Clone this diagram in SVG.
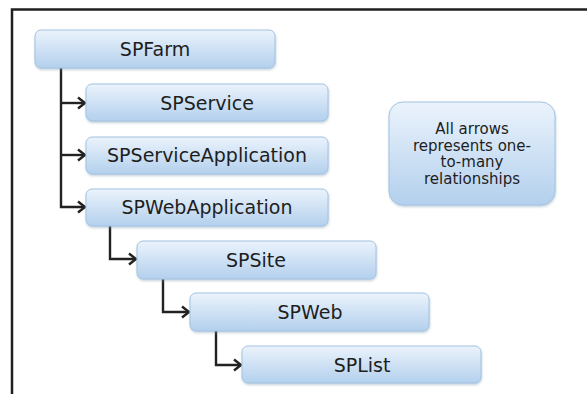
<svg xmlns="http://www.w3.org/2000/svg" width="587" height="394" viewBox="0 0 587 394">
  <style>
    .box { fill: url(#boxFill); stroke: #a3c3e2; stroke-width: 1; filter: url(#shadow); }
    .label { font-family: "DejaVu Sans", Verdana, sans-serif; font-size: 19px; fill: #1e1e1e; text-anchor: middle; }
    .note { font-family: "DejaVu Sans", Verdana, sans-serif; font-size: 15px; fill: #1e1e1e; text-anchor: middle; }
    .link { fill: none; stroke: #222; stroke-width: 2.4; marker-end: url(#arrow); }
    .frame { fill: none; stroke: #1f1f1f; stroke-width: 2.5; }
  </style>
  <defs>
    <linearGradient id="boxFill" x1="0" y1="0" x2="0" y2="1">
      <stop offset="0" stop-color="#ebf3fc"/>
      <stop offset="1" stop-color="#b3d0ed"/>
    </linearGradient>
    <filter id="shadow" x="-5%" y="-10%" width="110%" height="130%">
      <feDropShadow dx="0.5" dy="1.5" stdDeviation="1" flood-color="#7d97b0" flood-opacity="0.45"/>
    </filter>
    <marker id="arrow" markerUnits="userSpaceOnUse" markerWidth="12" markerHeight="14" refX="10" refY="7" orient="auto">
      <path d="M3,1.5 L10,7 L3,12.5" fill="none" stroke="#222" stroke-width="2.4"/>
    </marker>
  </defs>

  <rect width="587" height="394" fill="#ffffff"/>

  <!-- outer frame: top and left edges only -->
  <path class="frame" d="M12,394 L12,9.5 L587,9.5"/>

  <g id="connectors">
    <path class="link" d="M61,68 L61,207 L85,207"/>
    <path class="link" d="M61,103 L85,103"/>
    <path class="link" d="M61,155 L85,155"/>
    <path class="link" d="M110,226 L110,259 L136,259"/>
    <path class="link" d="M163,279 L163,312 L189,312"/>
    <path class="link" d="M216,331 L216,365 L241,365"/>
  </g>

  <g id="SPFarm">
    <rect class="box" x="35" y="30" width="240" height="38" rx="6"/>
    <text class="label" x="155" y="56">SPFarm</text>
  </g>
  <g id="SPService">
    <rect class="box" x="86" y="84" width="242" height="37" rx="6"/>
    <text class="label" x="207" y="109.5">SPService</text>
  </g>
  <g id="SPServiceApplication">
    <rect class="box" x="86" y="137" width="242" height="37" rx="6"/>
    <text class="label" x="207" y="162">SPServiceApplication</text>
  </g>
  <g id="SPWebApplication">
    <rect class="box" x="86" y="189" width="242" height="37" rx="6"/>
    <text class="label" x="207" y="214">SPWebApplication</text>
  </g>
  <g id="SPSite">
    <rect class="box" x="137" y="241" width="239" height="38" rx="6"/>
    <text class="label" x="256" y="267">SPSite</text>
  </g>
  <g id="SPWeb">
    <rect class="box" x="190" y="293" width="239" height="38" rx="6"/>
    <text class="label" x="310" y="319">SPWeb</text>
  </g>
  <g id="SPList">
    <rect class="box" x="242" y="346" width="239" height="37" rx="6"/>
    <text class="label" x="362" y="372">SPList</text>
  </g>

  <g id="note">
    <rect class="box" x="389" y="102" width="166" height="103" rx="14"/>
    <text class="note" x="472" y="134">All arrows</text>
    <text class="note" x="472" y="150.5">represents one-</text>
    <text class="note" x="472" y="167">to-many</text>
    <text class="note" x="472" y="183.5">relationships</text>
  </g>
</svg>
